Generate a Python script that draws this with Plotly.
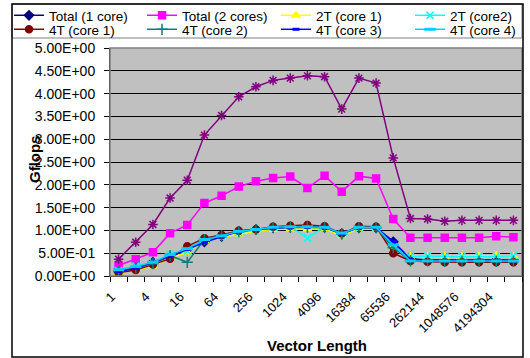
import plotly.graph_objects as go

# ---- data ----
vector_length = [1, 2, 4, 8, 16, 32, 64, 128, 256, 512, 1024, 2048, 4096, 8192,
                 16384, 32768, 65536, 131072, 262144, 524288, 1048576, 2097152,
                 4194304, 8388608]

total_1core = [0.10, 0.18, 0.30, 0.42, 0.58, 0.75, 0.87, 0.98, 1.02, 1.06, 1.07, 1.08,
               1.07, 0.93, 1.06, 1.06, 0.75, 0.38, 0.35, 0.35, 0.35, 0.35, 0.35, 0.35]
total_2cores = [0.23, 0.37, 0.52, 0.94, 1.12, 1.60, 1.76, 1.96, 2.08, 2.15, 2.18, 1.93,
                2.20, 1.85, 2.19, 2.14, 1.25, 0.84, 0.84, 0.84, 0.84, 0.84, 0.87, 0.85]
t2_core1 = [0.06, 0.13, 0.22, 0.40, 0.52, 0.77, 0.85, 0.92, 0.98, 1.02, 1.03, 1.03,
            1.04, 0.88, 1.04, 1.04, 0.63, 0.43, 0.43, 0.43, 0.43, 0.44, 0.45, 0.43]
t2_core2 = [0.12, 0.22, 0.30, 0.48, 0.55, 0.80, 0.88, 0.96, 1.01, 1.07, 1.08, 0.83,
            1.08, 0.92, 1.07, 1.07, 0.65, 0.43, 0.44, 0.43, 0.43, 0.43, 0.43, 0.44]
total_4cores = [0.37, 0.74, 1.13, 1.71, 2.10, 3.09, 3.52, 3.93, 4.15, 4.29, 4.34, 4.39,
                4.37, 3.66, 4.34, 4.23, 2.59, 1.26, 1.25, 1.20, 1.22, 1.22, 1.22, 1.22]
t4_core1 = [0.07, 0.13, 0.25, 0.38, 0.65, 0.83, 0.90, 0.99, 1.02, 1.08, 1.10, 1.12,
            1.09, 0.93, 1.09, 1.08, 0.50, 0.33, 0.31, 0.30, 0.30, 0.30, 0.30, 0.30]
t4_core2 = [0.10, 0.18, 0.27, 0.45, 0.30, 0.80, 0.88, 0.97, 1.02, 1.06, 1.07, 1.07,
            1.06, 0.92, 1.06, 1.06, 0.62, 0.33, 0.33, 0.32, 0.32, 0.32, 0.32, 0.32]
t4_core3 = [0.10, 0.17, 0.30, 0.43, 0.58, 0.74, 0.86, 0.98, 1.02, 1.05, 1.07, 1.07,
            1.07, 0.93, 1.07, 1.06, 0.76, 0.36, 0.34, 0.34, 0.34, 0.34, 0.34, 0.34]
t4_core4 = [0.14, 0.21, 0.30, 0.47, 0.60, 0.80, 0.88, 0.98, 1.02, 1.07, 1.08, 1.08,
            1.07, 0.94, 1.07, 1.07, 0.68, 0.33, 0.33, 0.33, 0.33, 0.33, 0.33, 0.33]

y_tick_values = [0.0, 0.5, 1.0, 1.5, 2.0, 2.5, 3.0, 3.5, 4.0, 4.5, 5.0]
y_tick_labels = ["0.00E+00", "5.00E-01", "1.00E+00", "1.50E+00", "2.00E+00", "2.50E+00",
                 "3.00E+00", "3.50E+00", "4.00E+00", "4.50E+00", "5.00E+00"]

idx = list(range(len(vector_length)))
x_tick_idx = idx[::2]
x_tick_text = [str(v) for v in vector_length[::2]]

FONT = "Liberation Sans, Arial, sans-serif"

# name, values, colour, marker symbol, marker size, legend slot
series = [
    ("Total (1 core)", total_1core, "#000080", "diamond", 7, "legend"),
    ("Total (2 cores)", total_2cores, "#FF00FF", "square", 7, "legend2"),
    ("2T (core 1)", t2_core1, "#FFFF00", "triangle-up", 7, "legend3"),
    ("2T (core2)", t2_core2, "#00FFFF", "x-thin-open", 7, "legend4"),
    ("Total (4 cores)", total_4cores, "#800080", "asterisk-open", 8, None),
    ("4T (core 1)", t4_core1, "#800000", "circle", 7, "legend5"),
    ("4T (core 2)", t4_core2, "#008080", "cross-thin-open", 8, "legend6"),
    ("4T (core 3)", t4_core3, "#0000FF", "line-ew-open", 5, "legend7"),
    ("4T (core 4)", t4_core4, "#00CCFF", "line-ew-open", 8, "legend8"),
]

fig = go.Figure()
for name, vals, color, sym, size, leg in series:
    marker = dict(symbol=sym, size=size, color=color, line=dict(color=color, width=1.5))
    if sym.startswith("line-ew"):
        marker["line"]["width"] = 3
    kw = dict(showlegend=leg is not None)
    if leg is not None:
        kw["legend"] = leg
    fig.add_trace(go.Scatter(
        x=idx, y=vals, name=name, mode="lines+markers",
        line=dict(color=color, width=1.5), marker=marker, **kw,
    ))

# plot area is x 110..522, y 48..276
def px_x(p):
    return (p - 110) / 412.0

def px_y(p):
    return (276 - p) / 228.0

def legend_at(xpx, ypx):
    return dict(
        orientation="v", xref="container", yref="container",
        x=xpx / 530.0, y=1 - ypx / 358.0, xanchor="left", yanchor="top",
        font=dict(family=FONT, size=13.5, color="black"),
        bgcolor="rgba(0,0,0,0)", borderwidth=0, tracegroupgap=0, itemwidth=30,
    )

col_x = [9, 142, 276, 410]
row_y = [0, 14]

legends = {}
slots = ["legend", "legend2", "legend3", "legend4", "legend5", "legend6", "legend7", "legend8"]
for i, s in enumerate(slots):
    legends[s] = legend_at(col_x[i % 4], row_y[i // 4])

fig.update_layout(
    width=530, height=358,
    margin=dict(l=110, r=8, t=48, b=82, pad=0, autoexpand=False),
    paper_bgcolor="white",
    plot_bgcolor="#C0C0C0",
    font=dict(family=FONT, size=13, color="black"),
    showlegend=True,
    **legends,
    xaxis=dict(
        range=[-0.5, 23.5], tickmode="array", tickvals=x_tick_idx, ticktext=x_tick_text,
        tickangle=-45, ticks="", showgrid=False, zeroline=False,
        showline=True, linecolor="black", linewidth=1,
        tickfont=dict(family=FONT, size=13), ticklabelstandoff=7, ticklabelshift=-7,
        minor=dict(ticks="outside", tick0=-0.5, dtick=1, ticklen=5, tickcolor="black",
                   tickwidth=1, showgrid=False),
    ),
    yaxis=dict(
        range=[0, 5], tickmode="array", tickvals=y_tick_values, ticktext=y_tick_labels,
        ticks="outside", ticklen=5, tickcolor="black", showgrid=True, gridcolor="black",
        gridwidth=1, zeroline=False, showline=True, linecolor="black", linewidth=1,
        tickfont=dict(family=FONT, size=14), ticklabelstandoff=6,
    ),
    shapes=[
        dict(type="rect", xref="paper", yref="paper", x0=0, x1=1, y0=0, y1=1,
             line=dict(color="#808080", width=1.5), layer="above"),
        dict(type="rect", xref="paper", yref="paper", x0=px_x(12), x1=px_x(522),
             y0=px_y(38), y1=px_y(4), line=dict(color="#808080", width=1), layer="above"),
        dict(type="rect", xref="paper", yref="paper", x0=px_x(12), x1=px_x(523),
             y0=px_y(357), y1=px_y(4), line=dict(color="black", width=1.5), layer="above"),
    ],
    annotations=[
        dict(text="<b>Gflops</b>", xref="paper", yref="paper", x=px_x(34), y=px_y(159),
             textangle=-90, showarrow=False, font=dict(family=FONT, size=15),
             xanchor="center", yanchor="middle"),
        dict(text="<b>Vector Length</b>", xref="paper", yref="paper", x=px_x(317),
             y=px_y(345), showarrow=False, font=dict(family=FONT, size=15),
             xanchor="center", yanchor="middle"),
    ],
)

fig.write_html("out.html")
